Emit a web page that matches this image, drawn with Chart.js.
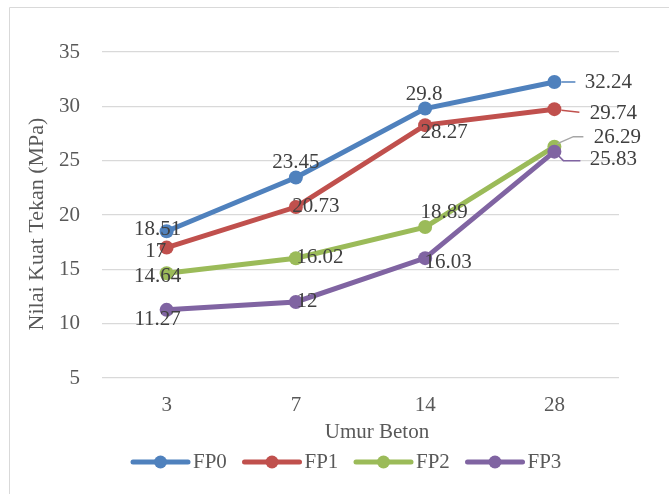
<!DOCTYPE html>
<html>
<head>
<meta charset="utf-8">
<script src="https://cdn.jsdelivr.net/npm/chart.js@4.4.0/dist/chart.umd.min.js"></script>
<style>
  html, body { margin: 0; padding: 0; background: #ffffff; }
  #wrap { width: 669px; height: 494px; position: relative; }
</style>
</head>
<body>
<div id="wrap"><canvas id="c" width="669" height="494"></canvas></div>
<script>
// Concrete age (days) and compressive strength (MPa) per mix
const ages = ['3', '7', '14', '28'];
const fp0 = [18.51, 23.45, 29.8, 32.24];
const fp1 = [17, 20.73, 28.27, 29.74];
const fp2 = [14.64, 16.02, 18.89, 26.29];
const fp3 = [11.27, 12, 16.03, 25.83];
const seriesNames = ['FP0', 'FP1', 'FP2', 'FP3'];
const yTicks = [5, 10, 15, 20, 25, 30, 35];
const xTitle = 'Umur Beton';
const yTitle = 'Nilai Kuat Tekan (MPa)';

const FONT = "'Liberation Serif', 'Times New Roman', serif";
const FS = 21;
const colors = ['#4F81BD', '#C0504D', '#9BBB59', '#8064A2'];

// Where each value label sits relative to its point (pixels, centre of text)
const labelOffsets = [
  [[-9, -2], [0, -15], [-1, -14], [54, 0]],
  [[-11, 4], [20, -1], [19, 7], [59, 4]],
  [[-9, 3], [24, -1], [19, -15], [63, -9]],
  [[-9, 10], [11, 0], [23, 4], [59, 8]]
];
// Leader lines for the labels pulled out to the right of the last point
const leaders = [
  { color: '#4F81BD', path: [[7, 0], [21, 0]] },
  { color: '#C0504D', path: [[7, 1], [25, 3]] },
  { color: '#A6A6A6', path: [[3, -3], [19, -10], [29, -10]] },
  { color: '#8064A2', path: [[4, 4], [9, 9], [26, 9]] }
];

const decor = {
  id: 'decor',
  beforeDraw(chart) {
    const ctx = chart.ctx;
    ctx.save();
    ctx.strokeStyle = '#D9D9D9';
    ctx.lineWidth = 1;
    ctx.beginPath();
    ctx.moveTo(9.5, 494);
    ctx.lineTo(9.5, 7.5);
    ctx.lineTo(669, 7.5);
    ctx.stroke();
    ctx.restore();
  },
  afterDatasetsDraw(chart) {
    const ctx = chart.ctx;
    ctx.save();
    chart.data.datasets.forEach((ds, i) => {
      const meta = chart.getDatasetMeta(i);
      const last = meta.data[meta.data.length - 1];
      const ld = leaders[i];
      ctx.strokeStyle = ld.color;
      ctx.lineWidth = 1.5;
      ctx.beginPath();
      ld.path.forEach(([dx, dy], k) => {
        if (k === 0) ctx.moveTo(last.x + dx, last.y + dy);
        else ctx.lineTo(last.x + dx, last.y + dy);
      });
      ctx.stroke();
    });
    ctx.font = FS + 'px ' + FONT;
    ctx.fillStyle = '#404040';
    ctx.textAlign = 'center';
    ctx.textBaseline = 'middle';
    chart.data.datasets.forEach((ds, i) => {
      const meta = chart.getDatasetMeta(i);
      meta.data.forEach((pt, j) => {
        const [dx, dy] = labelOffsets[i][j];
        ctx.fillText(String(ds.data[j]), pt.x + dx, pt.y + dy);
      });
    });
    ctx.restore();
  },
  afterDraw(chart) {
    const ctx = chart.ctx;
    ctx.save();
    ctx.fillStyle = '#595959';
    ctx.textAlign = 'center';
    ctx.textBaseline = 'middle';
    // y-axis title, rotated
    ctx.font = '22px ' + FONT;
    ctx.save();
    ctx.translate(37, 224);
    ctx.rotate(-Math.PI / 2);
    ctx.fillText(yTitle, 0, 0);
    ctx.restore();
    // x-axis title
    ctx.font = FS + 'px ' + FONT;
    ctx.fillText(xTitle, 377, 432);
    // legend: line with marker, then series name
    const y = 462;
    chart.data.datasets.forEach((ds, i) => {
      const x0 = 133 + i * 111.5;
      ctx.strokeStyle = ds.borderColor;
      ctx.lineWidth = 5;
      ctx.lineCap = 'round';
      ctx.beginPath();
      ctx.moveTo(x0, y);
      ctx.lineTo(x0 + 55, y);
      ctx.stroke();
      ctx.fillStyle = ds.borderColor;
      ctx.beginPath();
      ctx.arc(x0 + 27.5, y, 6.5, 0, Math.PI * 2);
      ctx.fill();
      ctx.fillStyle = '#595959';
      ctx.textAlign = 'left';
      ctx.fillText(ds.label, x0 + 60, y);
    });
    ctx.restore();
  }
};

const seriesData = [fp0, fp1, fp2, fp3];
const datasets = seriesData.map((vals, i) => ({
  label: seriesNames[i],
  data: vals,
  borderColor: colors[i],
  backgroundColor: colors[i],
  pointBackgroundColor: colors[i],
  pointBorderColor: colors[i],
  borderWidth: 5,
  pointRadius: 7,
  pointBorderWidth: 0,
  pointHoverRadius: 7,
  tension: 0,
  fill: false,
  order: seriesData.length - 1 - i
}));

new Chart(document.getElementById('c'), {
  type: 'line',
  data: { labels: ages, datasets },
  plugins: [decor],
  options: {
    responsive: false,
    animation: false,
    devicePixelRatio: 1,
    layout: { padding: { top: 52, right: 50, bottom: 0, left: 0 } },
    plugins: { legend: { display: false }, tooltip: { enabled: false } },
    scales: {
      x: {
        type: 'category',
        offset: true,
        grid: { display: false, drawTicks: false },
        border: { display: false },
        ticks: { color: '#595959', font: { family: FONT, size: FS }, padding: 15 },
        afterFit(scale) { scale.height = 116; }
      },
      y: {
        min: 5,
        max: 35,
        afterBuildTicks(scale) { scale.ticks = yTicks.map(v => ({ value: v })); },
        grid: { color: '#D9D9D9', lineWidth: 1.3, drawTicks: false },
        border: { display: false },
        ticks: { color: '#595959', font: { family: FONT, size: FS }, padding: 22 },
        title: { display: false },
        afterFit(scale) { scale.width = 102; }
      }
    }
  }
});
</script>
</body>
</html>
